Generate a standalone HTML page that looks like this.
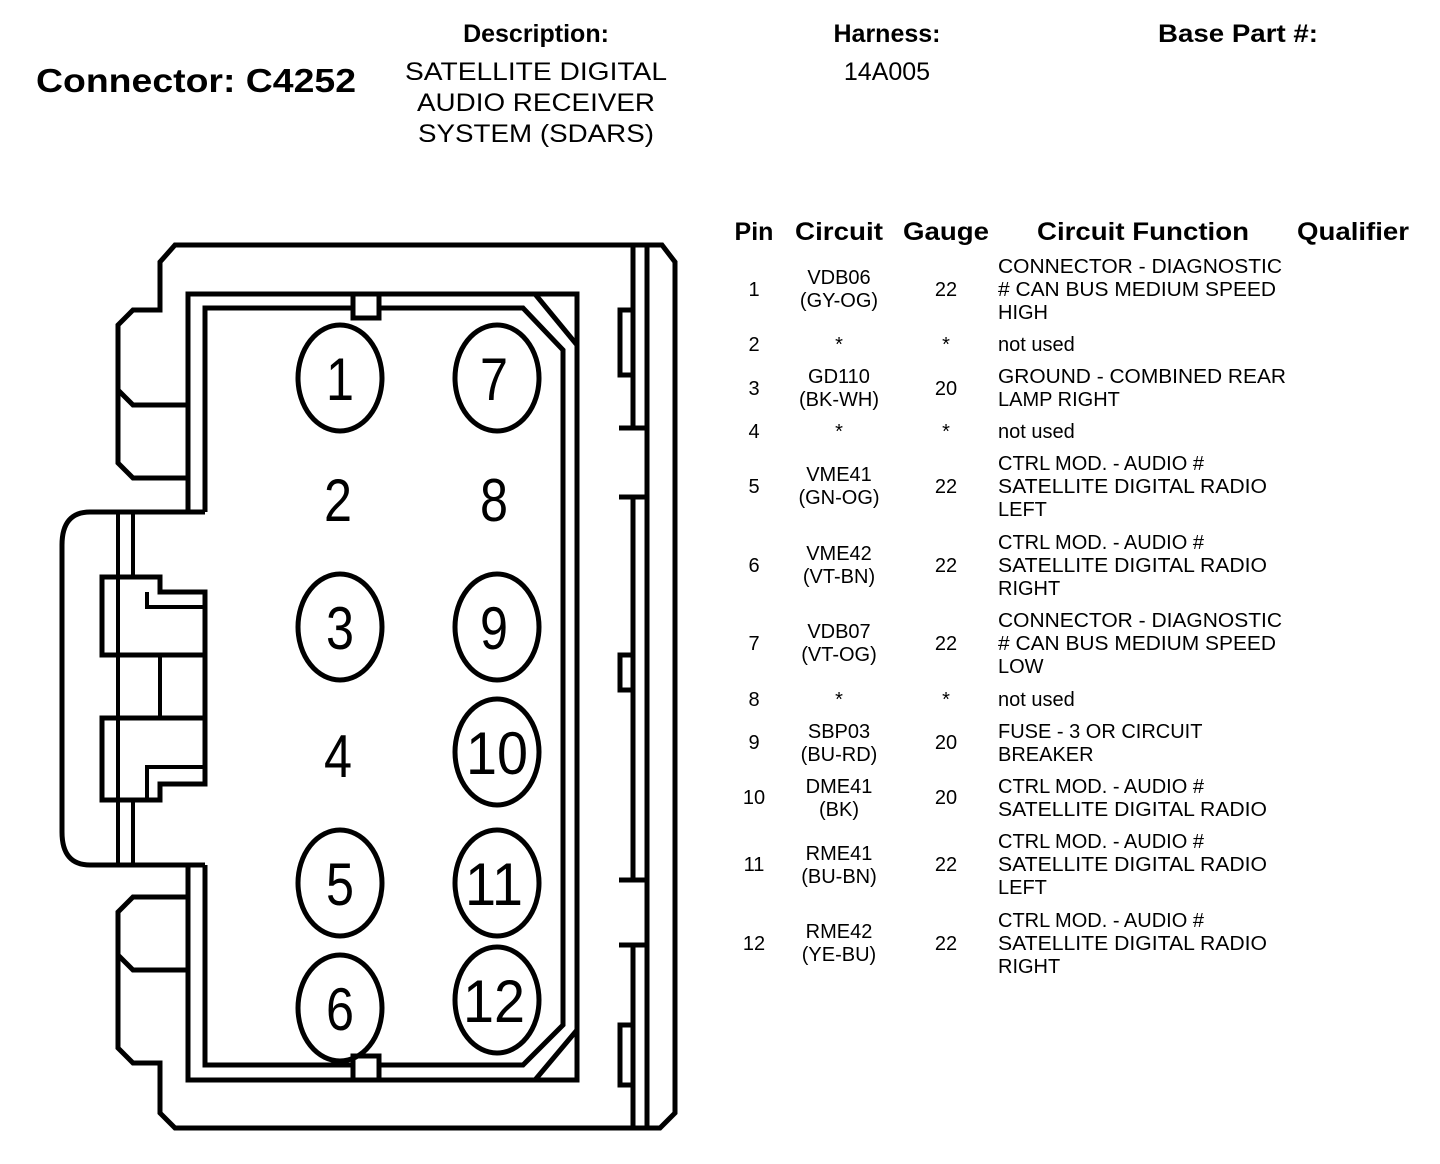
<!DOCTYPE html>
<html><head><meta charset="utf-8"><style>
html,body{margin:0;padding:0;background:#fff;}
svg{display:block;}
text{font-family:"Liberation Sans",Arial,sans-serif;fill:#000;}
.h{font-weight:bold;font-size:25px;text-anchor:middle;}
.t{font-size:20px;}
.c{text-anchor:middle;}
.n{font-size:60px;text-anchor:middle;}
</style></head><body>
<svg width="1440" height="1164" viewBox="0 0 1440 1164" xmlns="http://www.w3.org/2000/svg">
<!-- header -->
<text x="36" y="92" style="font-weight:bold;font-size:33px" textLength="320" lengthAdjust="spacingAndGlyphs">Connector: C4252</text>
<text class="h" x="536" y="42">Description:</text>
<text x="536" y="80" style="font-size:25px" text-anchor="middle" textLength="262" lengthAdjust="spacingAndGlyphs">SATELLITE DIGITAL</text>
<text x="536" y="111" style="font-size:25px" text-anchor="middle" textLength="238" lengthAdjust="spacingAndGlyphs">AUDIO RECEIVER</text>
<text x="536" y="142" style="font-size:25px" text-anchor="middle" textLength="236" lengthAdjust="spacingAndGlyphs">SYSTEM (SDARS)</text>
<text class="h" x="887" y="42">Harness:</text>
<text x="887" y="80" style="font-size:25px" text-anchor="middle">14A005</text>
<text class="h" x="1238" y="42" textLength="160" lengthAdjust="spacingAndGlyphs">Base Part #:</text>

<!-- connector drawing -->
<g fill="none" stroke="#000" stroke-width="5" stroke-linejoin="miter">
  <path d="M205,512 L90,512 Q62,512 62,545 L62,832 Q62,865 90,865 L205,865"/>
  <path d="M188,478 L133,478 L118,463 L118,325 L133,310 L160,310 L160,262 L175,245 L662,245 L675,262 L675,1113 L660,1128 L175,1128 L160,1113 L160,1063 L133,1063 L118,1048 L118,912 L133,897 L188,897"/>
  <path d="M118,390 L133,405 L188,405"/>
  <path d="M118,955 L133,970 L188,970"/>
  <!-- frame -->
  <path d="M188,512 L188,294 L577,294 L577,1080 L188,1080 L188,865"/>
  <path d="M205,512 L205,308 L523,308 L563,350 L563,1025 L523,1065 L205,1065 L205,865"/>
  <line x1="535" y1="294" x2="577" y2="345"/>
  <line x1="535" y1="1080" x2="577" y2="1030"/>
  <rect x="353" y="294" width="26" height="24" fill="#fff"/>
  <rect x="353" y="1056" width="26" height="24" fill="#fff"/>
  <!-- left latches -->
  <line x1="118" y1="512" x2="118" y2="865" stroke-width="4"/>
  <line x1="133" y1="512" x2="133" y2="577" stroke-width="4"/>
  <line x1="133" y1="800" x2="133" y2="865" stroke-width="4"/>
  <path d="M102,577 L160,577 L160,592 L205,592 L205,655 L102,655 Z"/>
  <path d="M147,592 L147,607 L205,607" stroke-width="4"/>
  <path d="M102,718 L205,718 L205,784 L160,784 L160,800 L102,800 Z"/>
  <path d="M147,800 L147,767 L205,767" stroke-width="4"/>
  <line x1="160" y1="655" x2="160" y2="718" stroke-width="4"/>
  <line x1="205" y1="655" x2="205" y2="718" stroke-width="5"/>
  <!-- right rails -->
  <line x1="647" y1="245" x2="647" y2="1128" stroke-width="5"/>
  <line x1="633" y1="245" x2="633" y2="428" stroke-width="5"/>
  <line x1="633" y1="497" x2="633" y2="880" stroke-width="5"/>
  <line x1="633" y1="945" x2="633" y2="1128" stroke-width="5"/>
  <line x1="619" y1="428" x2="647" y2="428"/>
  <line x1="619" y1="497" x2="647" y2="497"/>
  <line x1="619" y1="880" x2="647" y2="880"/>
  <line x1="619" y1="945" x2="647" y2="945"/>
  <path d="M633,310 L620,310 L620,375 L633,375"/>
  <path d="M633,655 L620,655 L620,690 L633,690"/>
  <path d="M633,1025 L620,1025 L620,1085 L633,1085"/>
</g>
<g fill="none" stroke="#000" stroke-width="5">
  <ellipse cx="340" cy="378" rx="42" ry="53"/>
  <ellipse cx="497" cy="378" rx="42" ry="53"/>
  <ellipse cx="340" cy="627" rx="42" ry="53"/>
  <ellipse cx="497" cy="627" rx="42" ry="53"/>
  <ellipse cx="497" cy="752" rx="42" ry="53"/>
  <ellipse cx="340" cy="883" rx="42" ry="53"/>
  <ellipse cx="497" cy="883" rx="42" ry="53"/>
  <ellipse cx="340" cy="1008" rx="42" ry="53"/>
  <ellipse cx="497" cy="1000" rx="42" ry="53"/>
</g>
<g>
  <text class="n" x="340" y="400" textLength="28" lengthAdjust="spacingAndGlyphs">1</text>
  <text class="n" x="494" y="400" textLength="28" lengthAdjust="spacingAndGlyphs">7</text>
  <text class="n" x="338" y="521" textLength="28" lengthAdjust="spacingAndGlyphs">2</text>
  <text class="n" x="494" y="521" textLength="28" lengthAdjust="spacingAndGlyphs">8</text>
  <text class="n" x="340" y="649" textLength="28" lengthAdjust="spacingAndGlyphs">3</text>
  <text class="n" x="494" y="649" textLength="28" lengthAdjust="spacingAndGlyphs">9</text>
  <text class="n" x="338" y="777" textLength="28" lengthAdjust="spacingAndGlyphs">4</text>
  <text class="n" x="497" y="774" textLength="62" lengthAdjust="spacingAndGlyphs">10</text>
  <text class="n" x="340" y="905" textLength="28" lengthAdjust="spacingAndGlyphs">5</text>
  <text class="n" x="494" y="905" textLength="58" lengthAdjust="spacingAndGlyphs">11</text>
  <text class="n" x="340" y="1030" textLength="28" lengthAdjust="spacingAndGlyphs">6</text>
  <text class="n" x="494" y="1022" textLength="62" lengthAdjust="spacingAndGlyphs">12</text>
</g>

<!-- table -->
<text class="h" x="754" y="240">Pin</text>
<text class="h" x="839" y="240" textLength="88" lengthAdjust="spacingAndGlyphs">Circuit</text>
<text class="h" x="946" y="240" textLength="86" lengthAdjust="spacingAndGlyphs">Gauge</text>
<text class="h" x="1143" y="240" textLength="212" lengthAdjust="spacingAndGlyphs">Circuit Function</text>
<text class="h" x="1353" y="240" textLength="112" lengthAdjust="spacingAndGlyphs">Qualifier</text>
<g class="t">
<text class="c" x="754" y="296">1</text>
<text class="c" x="839" y="284">VDB06</text><text class="c" x="839" y="307">(GY-OG)</text>
<text class="c" x="946" y="296">22</text>
<text x="998" y="273" textLength="284" lengthAdjust="spacingAndGlyphs">CONNECTOR - DIAGNOSTIC</text><text x="998" y="296" textLength="278" lengthAdjust="spacingAndGlyphs"># CAN BUS MEDIUM SPEED</text><text x="998" y="319">HIGH</text>

<text class="c" x="754" y="351">2</text><text class="c" x="839" y="351">*</text><text class="c" x="946" y="351">*</text><text x="998" y="351">not used</text>

<text class="c" x="754" y="395">3</text>
<text class="c" x="839" y="383">GD110</text><text class="c" x="839" y="406">(BK-WH)</text>
<text class="c" x="946" y="395">20</text>
<text x="998" y="383" textLength="288" lengthAdjust="spacingAndGlyphs">GROUND - COMBINED REAR</text><text x="998" y="406">LAMP RIGHT</text>

<text class="c" x="754" y="438">4</text><text class="c" x="839" y="438">*</text><text class="c" x="946" y="438">*</text><text x="998" y="438">not used</text>

<text class="c" x="754" y="493">5</text>
<text class="c" x="839" y="481">VME41</text><text class="c" x="839" y="504">(GN-OG)</text>
<text class="c" x="946" y="493">22</text>
<text x="998" y="470">CTRL MOD. - AUDIO #</text><text x="998" y="493" textLength="269" lengthAdjust="spacingAndGlyphs">SATELLITE DIGITAL RADIO</text><text x="998" y="516">LEFT</text>

<text class="c" x="754" y="572">6</text>
<text class="c" x="839" y="560">VME42</text><text class="c" x="839" y="583">(VT-BN)</text>
<text class="c" x="946" y="572">22</text>
<text x="998" y="549">CTRL MOD. - AUDIO #</text><text x="998" y="572" textLength="269" lengthAdjust="spacingAndGlyphs">SATELLITE DIGITAL RADIO</text><text x="998" y="595">RIGHT</text>

<text class="c" x="754" y="650">7</text>
<text class="c" x="839" y="638">VDB07</text><text class="c" x="839" y="661">(VT-OG)</text>
<text class="c" x="946" y="650">22</text>
<text x="998" y="627" textLength="284" lengthAdjust="spacingAndGlyphs">CONNECTOR - DIAGNOSTIC</text><text x="998" y="650" textLength="278" lengthAdjust="spacingAndGlyphs"># CAN BUS MEDIUM SPEED</text><text x="998" y="673">LOW</text>

<text class="c" x="754" y="706">8</text><text class="c" x="839" y="706">*</text><text class="c" x="946" y="706">*</text><text x="998" y="706">not used</text>

<text class="c" x="754" y="749">9</text>
<text class="c" x="839" y="738">SBP03</text><text class="c" x="839" y="761">(BU-RD)</text>
<text class="c" x="946" y="749">20</text>
<text x="998" y="738">FUSE - 3 OR CIRCUIT</text><text x="998" y="761">BREAKER</text>

<text class="c" x="754" y="804">10</text>
<text class="c" x="839" y="793">DME41</text><text class="c" x="839" y="816">(BK)</text>
<text class="c" x="946" y="804">20</text>
<text x="998" y="793">CTRL MOD. - AUDIO #</text><text x="998" y="816" textLength="269" lengthAdjust="spacingAndGlyphs">SATELLITE DIGITAL RADIO</text>

<text class="c" x="754" y="871">11</text>
<text class="c" x="839" y="860">RME41</text><text class="c" x="839" y="883">(BU-BN)</text>
<text class="c" x="946" y="871">22</text>
<text x="998" y="848">CTRL MOD. - AUDIO #</text><text x="998" y="871" textLength="269" lengthAdjust="spacingAndGlyphs">SATELLITE DIGITAL RADIO</text><text x="998" y="894">LEFT</text>

<text class="c" x="754" y="950">12</text>
<text class="c" x="839" y="938">RME42</text><text class="c" x="839" y="961">(YE-BU)</text>
<text class="c" x="946" y="950">22</text>
<text x="998" y="927">CTRL MOD. - AUDIO #</text><text x="998" y="950" textLength="269" lengthAdjust="spacingAndGlyphs">SATELLITE DIGITAL RADIO</text><text x="998" y="973">RIGHT</text>
</g>
</svg>
</body></html>
